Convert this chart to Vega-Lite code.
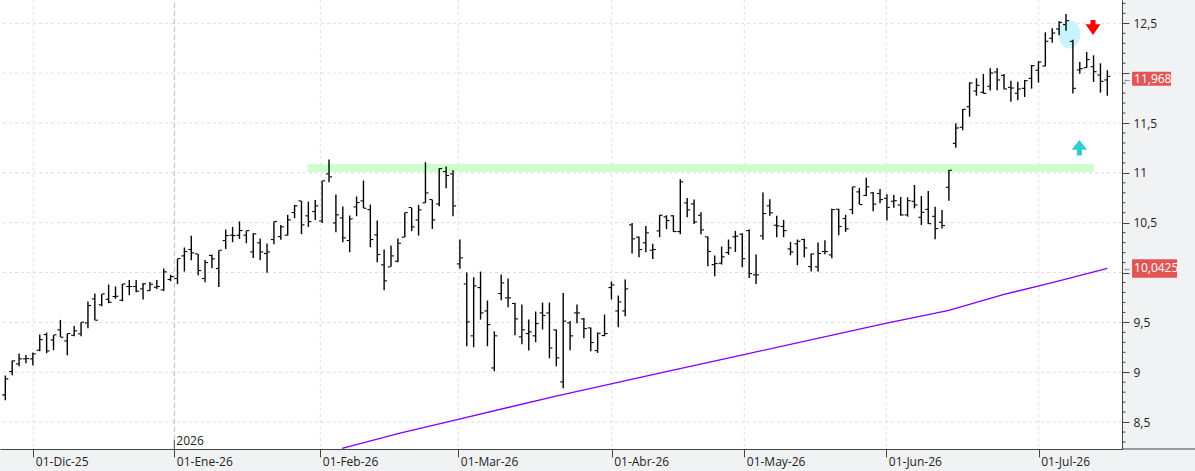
{
  "$schema": "https://vega.github.io/schema/vega-lite/v6.json",
  "width": 1122,
  "height": 449,
  "autosize": {"type": "none"},
  "padding": {"left": 0, "top": 0, "right": 73, "bottom": 22},
  "background": "#f1f2f4",
  "view": {"fill": "white", "stroke": null},
  "config": {"font": "Open Sans", "axis": {"grid": false}},
  "datasets": {
    "bars": [
      {"i":0,"o":8.773,"h":8.967,"l":8.719,"c":8.933},
      {"i":1,"o":9.007,"h":9.117,"l":8.970,"c":9.114},
      {"i":2,"o":9.084,"h":9.187,"l":9.060,"c":9.134},
      {"i":3,"o":9.134,"h":9.174,"l":9.090,"c":9.137},
      {"i":4,"o":9.134,"h":9.197,"l":9.067,"c":9.184},
      {"i":5,"o":9.221,"h":9.378,"l":9.211,"c":9.328},
      {"i":6,"o":9.378,"h":9.398,"l":9.191,"c":9.214},
      {"i":7,"o":9.324,"h":9.375,"l":9.221,"c":9.375},
      {"i":8,"o":9.425,"h":9.525,"l":9.351,"c":9.351},
      {"i":9,"o":9.314,"h":9.388,"l":9.171,"c":9.388},
      {"i":10,"o":9.371,"h":9.465,"l":9.361,"c":9.415},
      {"i":11,"o":9.385,"h":9.502,"l":9.361,"c":9.502},
      {"i":12,"o":9.495,"h":9.709,"l":9.441,"c":9.669},
      {"i":13,"o":9.736,"h":9.789,"l":9.522,"c":9.522},
      {"i":14,"o":9.676,"h":9.786,"l":9.662,"c":9.786},
      {"i":15,"o":9.732,"h":9.880,"l":9.692,"c":9.702},
      {"i":16,"o":9.759,"h":9.860,"l":9.736,"c":9.762},
      {"i":17,"o":9.722,"h":9.886,"l":9.712,"c":9.886},
      {"i":18,"o":9.860,"h":9.926,"l":9.773,"c":9.860},
      {"i":19,"o":9.860,"h":9.926,"l":9.803,"c":9.813},
      {"i":20,"o":9.836,"h":9.896,"l":9.729,"c":9.886},
      {"i":21,"o":9.819,"h":9.906,"l":9.816,"c":9.883},
      {"i":22,"o":9.853,"h":9.926,"l":9.836,"c":9.860},
      {"i":23,"o":9.826,"h":10.040,"l":9.816,"c":10.007},
      {"i":24,"o":9.930,"h":9.977,"l":9.913,"c":9.960},
      {"i":25,"o":9.940,"h":10.140,"l":9.883,"c":10.140},
      {"i":26,"o":10.167,"h":10.251,"l":10.010,"c":10.211},
      {"i":27,"o":10.231,"h":10.368,"l":10.124,"c":10.197},
      {"i":28,"o":10.187,"h":10.187,"l":9.973,"c":10.020},
      {"i":29,"o":9.940,"h":10.127,"l":9.903,"c":10.100},
      {"i":30,"o":10.171,"h":10.181,"l":10.044,"c":10.137},
      {"i":31,"o":10.040,"h":10.224,"l":9.856,"c":10.224},
      {"i":32,"o":10.321,"h":10.431,"l":10.237,"c":10.371},
      {"i":33,"o":10.375,"h":10.458,"l":10.304,"c":10.371},
      {"i":34,"o":10.375,"h":10.512,"l":10.338,"c":10.421},
      {"i":35,"o":10.375,"h":10.421,"l":10.294,"c":10.421},
      {"i":36,"o":10.207,"h":10.395,"l":10.147,"c":10.388},
      {"i":37,"o":10.298,"h":10.341,"l":10.124,"c":10.207},
      {"i":38,"o":10.191,"h":10.291,"l":9.997,"c":10.207},
      {"i":39,"o":10.331,"h":10.512,"l":10.284,"c":10.512},
      {"i":40,"o":10.361,"h":10.478,"l":10.328,"c":10.458},
      {"i":41,"o":10.375,"h":10.579,"l":10.371,"c":10.528},
      {"i":42,"o":10.602,"h":10.679,"l":10.545,"c":10.669},
      {"i":43,"o":10.719,"h":10.719,"l":10.385,"c":10.478},
      {"i":44,"o":10.569,"h":10.712,"l":10.458,"c":10.512},
      {"i":45,"o":10.612,"h":10.729,"l":10.528,"c":10.669},
      {"i":46,"o":10.518,"h":10.920,"l":10.498,"c":10.920},
      {"i":47,"o":10.990,"h":11.134,"l":10.906,"c":10.960},
      {"i":48,"o":10.498,"h":10.783,"l":10.405,"c":10.579},
      {"i":49,"o":10.548,"h":10.662,"l":10.304,"c":10.348},
      {"i":50,"o":10.321,"h":10.572,"l":10.204,"c":10.538},
      {"i":51,"o":10.659,"h":10.763,"l":10.565,"c":10.702},
      {"i":52,"o":10.719,"h":10.923,"l":10.645,"c":10.645},
      {"i":53,"o":10.632,"h":10.682,"l":10.254,"c":10.331},
      {"i":54,"o":10.378,"h":10.522,"l":10.104,"c":10.181},
      {"i":55,"o":10.077,"h":10.231,"l":9.823,"c":9.916},
      {"i":56,"o":10.057,"h":10.271,"l":10.057,"c":10.167},
      {"i":57,"o":10.114,"h":10.341,"l":10.104,"c":10.294},
      {"i":58,"o":10.355,"h":10.602,"l":10.355,"c":10.602},
      {"i":59,"o":10.652,"h":10.652,"l":10.415,"c":10.458},
      {"i":60,"o":10.528,"h":10.679,"l":10.371,"c":10.629},
      {"i":61,"o":10.699,"h":11.107,"l":10.699,"c":10.799},
      {"i":62,"o":10.732,"h":10.732,"l":10.438,"c":10.528},
      {"i":63,"o":10.689,"h":11.047,"l":10.666,"c":11.043},
      {"i":64,"o":11.013,"h":11.064,"l":10.846,"c":10.973},
      {"i":65,"o":10.990,"h":11.027,"l":10.565,"c":10.669},
      {"i":66,"o":10.087,"h":10.331,"l":10.037,"c":10.147},
      {"i":67,"o":9.886,"h":10.000,"l":9.261,"c":9.505},
      {"i":68,"o":9.365,"h":9.953,"l":9.251,"c":9.866},
      {"i":69,"o":9.849,"h":10.010,"l":9.528,"c":9.595},
      {"i":70,"o":9.615,"h":9.719,"l":9.261,"c":9.478},
      {"i":71,"o":9.043,"h":9.411,"l":9.010,"c":9.365},
      {"i":72,"o":9.789,"h":9.980,"l":9.722,"c":9.896},
      {"i":73,"o":9.746,"h":9.940,"l":9.652,"c":9.746},
      {"i":74,"o":9.689,"h":9.696,"l":9.371,"c":9.535},
      {"i":75,"o":9.355,"h":9.679,"l":9.281,"c":9.425},
      {"i":76,"o":9.388,"h":9.528,"l":9.217,"c":9.405},
      {"i":77,"o":9.365,"h":9.609,"l":9.301,"c":9.488},
      {"i":78,"o":9.595,"h":9.699,"l":9.428,"c":9.569},
      {"i":79,"o":9.595,"h":9.699,"l":9.140,"c":9.244},
      {"i":80,"o":9.425,"h":9.428,"l":9.060,"c":9.144},
      {"i":81,"o":8.903,"h":9.796,"l":8.839,"c":9.512},
      {"i":82,"o":9.495,"h":9.515,"l":9.221,"c":9.365},
      {"i":83,"o":9.595,"h":9.679,"l":9.492,"c":9.595},
      {"i":84,"o":9.535,"h":9.545,"l":9.341,"c":9.438},
      {"i":85,"o":9.445,"h":9.448,"l":9.211,"c":9.298},
      {"i":86,"o":9.217,"h":9.398,"l":9.194,"c":9.391},
      {"i":87,"o":9.368,"h":9.579,"l":9.361,"c":9.388},
      {"i":88,"o":9.849,"h":9.910,"l":9.729,"c":9.876},
      {"i":89,"o":9.615,"h":9.769,"l":9.452,"c":9.706},
      {"i":90,"o":9.615,"h":9.930,"l":9.562,"c":9.836},
      {"i":91,"o":10.478,"h":10.498,"l":10.191,"c":10.338},
      {"i":92,"o":10.355,"h":10.361,"l":10.154,"c":10.231},
      {"i":93,"o":10.298,"h":10.468,"l":10.204,"c":10.398},
      {"i":94,"o":10.224,"h":10.288,"l":10.137,"c":10.231},
      {"i":95,"o":10.418,"h":10.579,"l":10.355,"c":10.575},
      {"i":96,"o":10.559,"h":10.575,"l":10.435,"c":10.522},
      {"i":97,"o":10.569,"h":10.575,"l":10.408,"c":10.411},
      {"i":98,"o":10.411,"h":10.936,"l":10.385,"c":10.910},
      {"i":99,"o":10.699,"h":10.749,"l":10.555,"c":10.629},
      {"i":100,"o":10.689,"h":10.732,"l":10.488,"c":10.508},
      {"i":101,"o":10.575,"h":10.605,"l":10.385,"c":10.428},
      {"i":102,"o":10.358,"h":10.361,"l":10.064,"c":10.211},
      {"i":103,"o":10.080,"h":10.171,"l":9.963,"c":10.090},
      {"i":104,"o":10.094,"h":10.261,"l":10.080,"c":10.157},
      {"i":105,"o":10.201,"h":10.331,"l":10.177,"c":10.247},
      {"i":106,"o":10.358,"h":10.418,"l":10.207,"c":10.365},
      {"i":107,"o":10.385,"h":10.395,"l":10.054,"c":10.140},
      {"i":108,"o":10.421,"h":10.431,"l":9.946,"c":9.990},
      {"i":109,"o":9.977,"h":10.181,"l":9.886,"c":9.977},
      {"i":110,"o":10.368,"h":10.803,"l":10.328,"c":10.592},
      {"i":111,"o":10.669,"h":10.736,"l":10.569,"c":10.599},
      {"i":112,"o":10.475,"h":10.569,"l":10.355,"c":10.468},
      {"i":113,"o":10.462,"h":10.528,"l":10.355,"c":10.421},
      {"i":114,"o":10.237,"h":10.308,"l":10.174,"c":10.207},
      {"i":115,"o":10.288,"h":10.331,"l":10.074,"c":10.314},
      {"i":116,"o":10.331,"h":10.338,"l":10.154,"c":10.247},
      {"i":117,"o":10.060,"h":10.191,"l":10.010,"c":10.187},
      {"i":118,"o":10.057,"h":10.301,"l":10.010,"c":10.191},
      {"i":119,"o":10.211,"h":10.324,"l":10.184,"c":10.211},
      {"i":120,"o":10.177,"h":10.639,"l":10.144,"c":10.632},
      {"i":121,"o":10.635,"h":10.639,"l":10.375,"c":10.462},
      {"i":122,"o":10.542,"h":10.579,"l":10.408,"c":10.438},
      {"i":123,"o":10.632,"h":10.860,"l":10.585,"c":10.860},
      {"i":124,"o":10.809,"h":10.849,"l":10.682,"c":10.682},
      {"i":125,"o":10.773,"h":10.950,"l":10.769,"c":10.860},
      {"i":126,"o":10.799,"h":10.809,"l":10.615,"c":10.686},
      {"i":127,"o":10.793,"h":10.839,"l":10.696,"c":10.732},
      {"i":128,"o":10.745,"h":10.785,"l":10.521,"c":10.654},
      {"i":129,"o":10.715,"h":10.778,"l":10.651,"c":10.721},
      {"i":130,"o":10.678,"h":10.758,"l":10.571,"c":10.578},
      {"i":131,"o":10.578,"h":10.755,"l":10.561,"c":10.721},
      {"i":132,"o":10.715,"h":10.878,"l":10.644,"c":10.678},
      {"i":133,"o":10.554,"h":10.768,"l":10.477,"c":10.604},
      {"i":134,"o":10.634,"h":10.818,"l":10.487,"c":10.490},
      {"i":135,"o":10.564,"h":10.661,"l":10.334,"c":10.441},
      {"i":136,"o":10.504,"h":10.628,"l":10.441,"c":10.471},
      {"i":137,"o":10.855,"h":11.029,"l":10.721,"c":11.026},
      {"i":138,"o":11.296,"h":11.497,"l":11.253,"c":11.450},
      {"i":139,"o":11.457,"h":11.641,"l":11.427,"c":11.637},
      {"i":140,"o":11.664,"h":11.908,"l":11.564,"c":11.902},
      {"i":141,"o":11.821,"h":11.948,"l":11.774,"c":11.878},
      {"i":142,"o":11.808,"h":11.992,"l":11.795,"c":11.798},
      {"i":143,"o":11.868,"h":12.049,"l":11.825,"c":12.002},
      {"i":144,"o":12.012,"h":12.052,"l":11.828,"c":11.932},
      {"i":145,"o":11.978,"h":11.992,"l":11.838,"c":11.841},
      {"i":146,"o":11.858,"h":11.925,"l":11.714,"c":11.851},
      {"i":147,"o":11.798,"h":11.915,"l":11.728,"c":11.841},
      {"i":148,"o":11.848,"h":11.932,"l":11.761,"c":11.925},
      {"i":149,"o":11.948,"h":12.082,"l":11.845,"c":12.075},
      {"i":150,"o":12.029,"h":12.119,"l":11.905,"c":12.112},
      {"i":151,"o":12.072,"h":12.410,"l":12.069,"c":12.320},
      {"i":152,"o":12.350,"h":12.450,"l":12.306,"c":12.403},
      {"i":153,"o":12.443,"h":12.520,"l":12.380,"c":12.510},
      {"i":154,"o":12.487,"h":12.594,"l":12.426,"c":12.527},
      {"i":155,"o":12.319,"h":12.336,"l":11.795,"c":11.848},
      {"i":156,"o":12.032,"h":12.112,"l":11.995,"c":12.045},
      {"i":157,"o":12.055,"h":12.212,"l":12.052,"c":12.136},
      {"i":158,"o":12.065,"h":12.179,"l":11.912,"c":12.015},
      {"i":159,"o":11.982,"h":12.099,"l":11.805,"c":11.918},
      {"i":160,"o":11.932,"h":12.029,"l":11.774,"c":11.968}
    ],
    "ma": [
      {"i":48.9,"v":8.237},
      {"i":57.3,"v":8.39},
      {"i":65.3,"v":8.52},
      {"i":79.8,"v":8.759},
      {"i":95.8,"v":9.003},
      {"i":107.4,"v":9.18},
      {"i":127.8,"v":9.49},
      {"i":137.0,"v":9.62},
      {"i":145.0,"v":9.78},
      {"i":152.0,"v":9.90},
      {"i":160.0,"v":10.0425}
    ],
    "band": [{"i0":43.9,"i1":158.0,"v0":11.01,"v1":11.087}],
    "circle": [{"i":154.48,"v":12.39}],
    "down": [{"i":157.92,"v":12.458}],
    "up": [{"i":155.94,"v":11.251}],
    "tags": [
      {"v":11.944,"label":"11,968"},
      {"v":10.041,"label":"10,0425"}
    ],
    "gridy": [{"v":8.5},{"v":9},{"v":9.5},{"v":10},{"v":10.5},{"v":11},{"v":11.5},{"v":12},{"v":12.5}],
    "gridx": [{"i":4.07},{"i":45.74},{"i":65.77},{"i":88.04},{"i":107.29},{"i":127.91},{"i":150.04}],
    "minor": [
      {"v":8.3},{"v":8.4},{"v":8.6},{"v":8.7},{"v":8.8},{"v":8.9},
      {"v":9.1},{"v":9.2},{"v":9.3},{"v":9.4},{"v":9.6},{"v":9.7},{"v":9.8},{"v":9.9},
      {"v":10.1},{"v":10.2},{"v":10.3},{"v":10.4},{"v":10.6},{"v":10.7},{"v":10.8},{"v":10.9},
      {"v":11.1},{"v":11.2},{"v":11.3},{"v":11.4},{"v":11.6},{"v":11.7},{"v":11.8},{"v":11.9},
      {"v":12.1},{"v":12.2},{"v":12.3},{"v":12.4},{"v":12.6},{"v":12.7}
    ],
    "year": [{"i":24.54,"label":"2026"}]
  },
  "layer": [
    {
      "data": {"name": "band"},
      "mark": {"type": "rect", "color": "#ccffcc"},
      "encoding": {
        "x": {"field": "i0", "type": "quantitative", "scale": {"domain": [-0.77, 162.13], "nice": false, "zero": false},
          "axis": {
            "values": [4.07, 24.54, 45.74, 65.77, 88.04, 107.29, 127.91, 150.04],
            "labelExpr": "datum.value < 10 ? '01-Dic-25' : datum.value < 30 ? '01-Ene-26' : datum.value < 50 ? '01-Feb-26' : datum.value < 70 ? '01-Mar-26' : datum.value < 95 ? '01-Abr-26' : datum.value < 115 ? '01-May-26' : datum.value < 140 ? '01-Jun-26' : '01-Jul-26'",
            "title": null,
            "grid": false,
            "tickSize": 8,
            "tickColor": "#444",
            "domainColor": "#444",
            "labelAlign": "left",
            "labelBaseline": "top",
            "labelOffset": 2,
            "labelPadding": -1,
            "labelFontSize": 12,
            "labelColor": "#222",
            "labelFlush": false,
            "labelOverlap": false
          }
        },
        "x2": {"field": "i1"},
        "y": {"field": "v0", "type": "quantitative", "scale": {"domain": [8.23, 12.734], "nice": false, "zero": false},
          "axis": {
            "orient": "right",
            "values": [8.5, 9, 9.5, 10, 10.5, 11, 11.5, 12, 12.5],
            "labelExpr": "datum.value == 12 || datum.value == 10 ? '' : replace(format(datum.value, '~g'), '.', ',')",
            "title": null,
            "grid": false,
            "tickSize": 7,
            "tickColor": "#444",
            "domainColor": "#444",
            "labelPadding": 4,
            "labelFontSize": 12,
            "labelColor": "#222",
            "labelFlush": false,
            "labelOverlap": false
          }
        },
        "y2": {"field": "v1"}
      }
    },
    {
      "data": {"name": "gridy"},
      "mark": {"type": "rule", "color": "#dcdcdc", "strokeWidth": 1, "strokeDash": [3, 3]},
      "encoding": {
        "y": {"field": "v", "type": "quantitative"}
      }
    },
    {
      "data": {"name": "gridx"},
      "mark": {"type": "rule", "color": "#e0e0e0", "strokeWidth": 1, "strokeDash": [3, 3]},
      "encoding": {
        "x": {"field": "i", "type": "quantitative"}
      }
    },
    {
      "data": {"name": "year"},
      "mark": {"type": "rule", "color": "#b8b8b8", "strokeWidth": 1, "strokeDash": [5, 3]},
      "encoding": {
        "x": {"field": "i", "type": "quantitative"},
        "y": {"datum": 8.32},
        "y2": {"datum": 12.734}
      }
    },
    {
      "data": {"name": "band"},
      "mark": {"type": "rect", "color": "#ccffcc"},
      "encoding": {
        "x": {"field": "i0", "type": "quantitative"},
        "x2": {"field": "i1"},
        "y": {"field": "v0", "type": "quantitative"},
        "y2": {"field": "v1"}
      }
    },
    {
      "data": {"name": "circle"},
      "mark": {"type": "point", "filled": true, "shape": "M0,-1.3 A1,1.3 0 1,1 0,1.3 A1,1.3 0 1,1 0,-1.3 Z", "size": 484, "color": "#c9f4fb", "opacity": 1},
      "encoding": {
        "x": {"field": "i", "type": "quantitative"},
        "y": {"field": "v", "type": "quantitative"}
      }
    },
    {
      "data": {"name": "ma"},
      "mark": {"type": "line", "color": "#8000ff", "strokeWidth": 1.3, "clip": true},
      "encoding": {
        "x": {"field": "i", "type": "quantitative"},
        "y": {"field": "v", "type": "quantitative"}
      }
    },
    {
      "data": {"name": "bars"},
      "mark": {"type": "rule", "color": "black", "strokeWidth": 1.4},
      "encoding": {
        "x": {"field": "i", "type": "quantitative"},
        "y": {"field": "l", "type": "quantitative"},
        "y2": {"field": "h"}
      }
    },
    {
      "data": {"name": "bars"},
      "mark": {"type": "tick", "orient": "horizontal", "color": "black", "size": 2.6, "thickness": 1.1, "xOffset": -1.7, "opacity": 1},
      "encoding": {
        "x": {"field": "i", "type": "quantitative"},
        "y": {"field": "o", "type": "quantitative"}
      }
    },
    {
      "data": {"name": "bars"},
      "mark": {"type": "tick", "orient": "horizontal", "color": "black", "size": 2.6, "thickness": 1.1, "xOffset": 1.7, "opacity": 1},
      "encoding": {
        "x": {"field": "i", "type": "quantitative"},
        "y": {"field": "c", "type": "quantitative"}
      }
    },
    {
      "data": {"name": "down"},
      "mark": {"type": "point", "filled": true, "shape": "M-0.33,-1 L0.33,-1 L0.33,-0.45 L1,-0.45 L0,1 L-1,-0.45 L-0.33,-0.45 Z", "size": 225, "color": "#ff0000", "opacity": 1},
      "encoding": {
        "x": {"field": "i", "type": "quantitative"},
        "y": {"field": "v", "type": "quantitative"}
      }
    },
    {
      "data": {"name": "up"},
      "mark": {"type": "point", "filled": true, "shape": "M0,-1 L1,0.25 L0.33,0.25 L0.33,1 L-0.33,1 L-0.33,0.25 L-1,0.25 Z", "size": 240, "color": "#33cccc", "opacity": 1},
      "encoding": {
        "x": {"field": "i", "type": "quantitative"},
        "y": {"field": "v", "type": "quantitative"}
      }
    },
    {
      "data": {"name": "year"},
      "mark": {"type": "rule", "color": "#444", "strokeWidth": 1},
      "encoding": {
        "x": {"field": "i", "type": "quantitative"},
        "y": {"datum": 8.23},
        "y2": {"datum": 8.32}
      }
    },
    {
      "data": {"name": "year"},
      "mark": {"type": "text", "align": "left", "baseline": "alphabetic", "dx": 2, "fontSize": 12, "color": "#222"},
      "encoding": {
        "x": {"field": "i", "type": "quantitative"},
        "y": {"datum": 8.27},
        "text": {"field": "label"}
      }
    },
    {
      "data": {"name": "minor"},
      "mark": {"type": "rule", "color": "#444", "strokeWidth": 1, "clip": false},
      "encoding": {
        "x": {"datum": 162.13},
        "x2": {"datum": 162.64},
        "y": {"field": "v", "type": "quantitative"}
      }
    },
    {
      "data": {"name": "band"},
      "mark": {"type": "rule", "color": "#444", "strokeWidth": 1, "clip": false},
      "encoding": {
        "x": {"datum": 162.13},
        "x2": {"datum": 172.8},
        "y": {"datum": 8.23}
      }
    },
    {
      "data": {"name": "tags"},
      "transform": [{"filter": "datum.label == '11,968'"}],
      "mark": {"type": "rect", "color": "#e25555"},
      "encoding": {
        "x": {"datum": 163.59},
        "x2": {"datum": 169.25},
        "y": {"datum": 11.874},
        "y2": {"datum": 12.015}
      }
    },
    {
      "data": {"name": "tags"},
      "transform": [{"filter": "datum.label == '10,0425'"}],
      "mark": {"type": "rect", "color": "#e25555"},
      "encoding": {
        "x": {"datum": 163.59},
        "x2": {"datum": 170.12},
        "y": {"datum": 9.949},
        "y2": {"datum": 10.134}
      }
    },
    {
      "data": {"name": "tags"},
      "mark": {"type": "text", "align": "left", "baseline": "middle", "dx": 2, "fontSize": 12, "color": "white"},
      "encoding": {
        "x": {"datum": 163.59},
        "y": {"field": "v", "type": "quantitative"},
        "text": {"field": "label"}
      }
    },
    {
      "data": {"name": "tags"},
      "mark": {"type": "text", "align": "center", "baseline": "middle", "fontSize": 9, "color": "#555", "text": "←"},
      "encoding": {
        "x": {"datum": 162.9},
        "y": {"field": "v", "type": "quantitative"}
      }
    }
  ]
}
